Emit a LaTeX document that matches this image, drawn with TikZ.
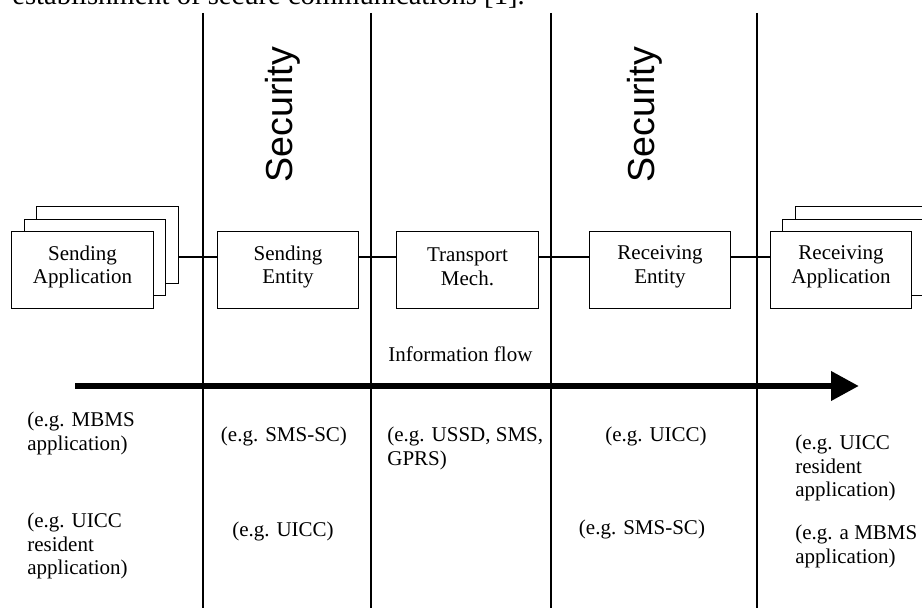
\documentclass[tikz,border=0pt]{standalone}
\usepackage{fontspec}
\setmainfont{Liberation Serif}
\newfontfamily\secfont{Liberation Sans}
\usetikzlibrary{arrows.meta}
\begin{document}
\begin{tikzpicture}[x=0.5pt,y=-0.5pt,
  txt/.style={font=\fontsize{10.5}{11.75}\selectfont, inner sep=0pt},
  box/.style={draw, line width=0.6pt, fill=white, minimum width=70.85pt, minimum height=38.35pt,
              inner sep=0pt},
  boxtxt/.style={txt, align=center, yshift=1.5pt},
  lbl/.style={txt, align=left, anchor=base west},
  clbl/.style={txt, align=center, anchor=base},
  divider/.style={line width=0.6pt},
  link/.style={line width=0.6pt},
  seclbl/.style={rotate=90, anchor=base west, inner sep=0pt, font=\secfont\fontsize{18.8}{20}\selectfont},
  flow/.style={line width=3.4pt, -{Triangle[length=14pt,width=14pt]}}
]
\useasboundingbox (0,0) rectangle (922,608);

% caption fragment cut by the top edge
\node[anchor=base west, inner sep=0pt, font=\fontsize{14.3}{16}\selectfont] (cap) at (12,5)
  {establishment of secure communications [1].};

% column dividers
\foreach \i/\x in {1/203, 2/371, 3/551, 4/757} {
  \coordinate (d\i t) at (\x,13);
  \coordinate (d\i b) at (\x,620);
  \draw[divider] (d\i t) -- (d\i b);
}

% security labels
\node[seclbl] (sec1) at (292,183) {Security};
\node[seclbl] (sec2) at (654,183) {Security};

% sending application stack
\node[box] (sa3) at (107.5,245) {};
\node[box] (sa2) at (95,257.5) {};
\node[box] (sa1) at (82.5,270) {};
\node[boxtxt] (sa1t) at (sa1) {Sending\\Application};

\node[box] (se) at (288,270) {};
\node[boxtxt] (set) at (se) {Sending\\Entity};
\node[box] (tm) at (467.5,270) {};
\node[boxtxt] (tmt) at (tm) {Transport\\Mech.};
\node[box] (re) at (660,270) {};
\node[boxtxt] (ret) at (re) {Receiving\\Entity};

% receiving application stack
\node[box] (ra3) at (866,245) {};
\node[box] (ra2) at (853.5,257.5) {};
\node[box] (ra1) at (841,270) {};
\node[boxtxt] (ra1t) at (ra1) {Receiving\\Application};

% connectors
\coordinate (ly) at (0,257);
\draw[link] (sa3.east |- ly) -- (se.west |- ly);
\draw[link] (se.east |- ly) -- (tm.west |- ly);
\draw[link] (tm.east |- ly) -- (re.west |- ly);
\draw[link] (re.east |- ly) -- (ra1.west |- ly);

% information flow
\node[lbl] (info) at (388,362) {Information flow};
\coordinate (fa) at (75,386);
\coordinate (fb) at (859,386);
\draw[flow] (fa) -- (fb);

% examples (anchor base = baseline of the last line)
\node[lbl] (ex1) at (27,450.5) {(e.g. MBMS\\application)};
\node[lbl] (ex2) at (27,575) {(e.g. UICC\\resident\\application)};
\node[clbl] (ex3) at (284,442) {(e.g. SMS-SC)};
\node[clbl] (ex4) at (283,537) {(e.g. UICC)};
\node[lbl] (ex5) at (387,465.5) {(e.g. USSD, SMS,\\GPRS)};
\node[clbl] (ex6) at (656,442) {(e.g. UICC)};
\node[clbl] (ex7) at (642,535) {(e.g. SMS-SC)};
\node[lbl] (ex8) at (795,497) {(e.g. UICC\\resident\\application)};
\node[lbl] (ex9) at (795,563.5) {(e.g. a MBMS\\application)};
\end{tikzpicture}
\end{document}
